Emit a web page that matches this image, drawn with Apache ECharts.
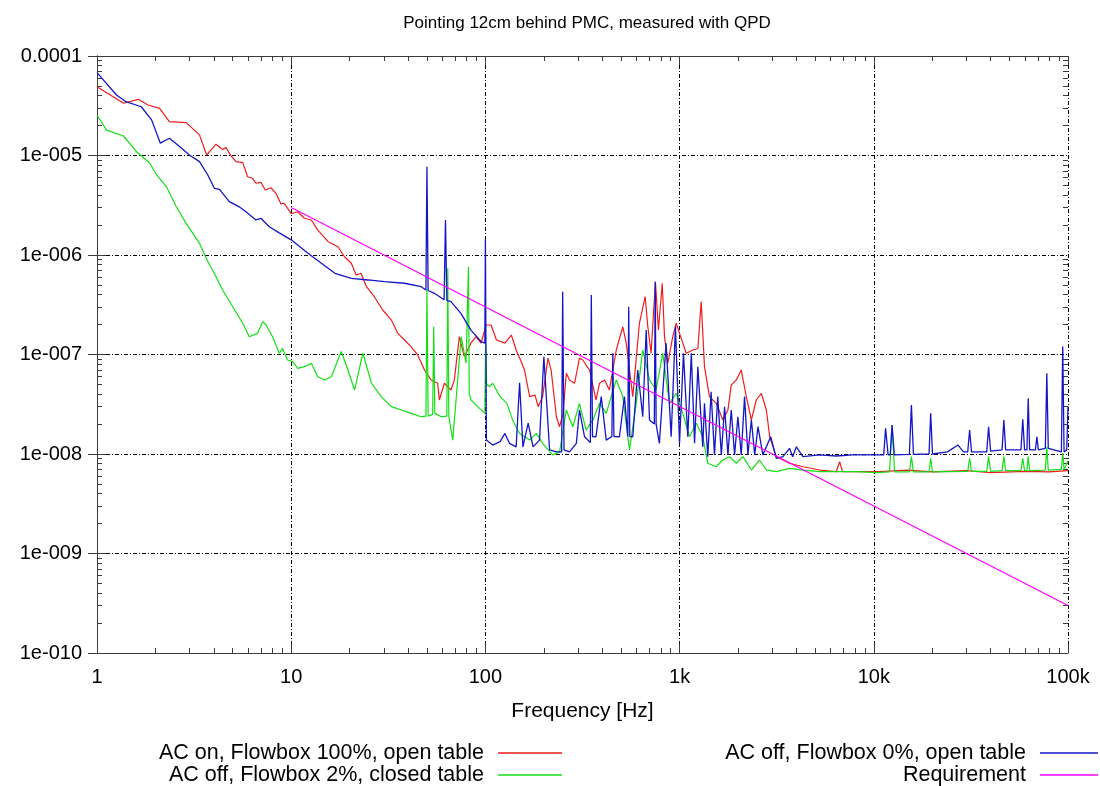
<!DOCTYPE html>
<html>
<head>
<meta charset="utf-8">
<script src="https://cdn.jsdelivr.net/npm/echarts@6/dist/echarts.min.js"></script>
<style>html,body{margin:0;padding:0;background:#fff}#c{width:1100px;height:786px}</style>
</head>
<body>
<div id="c"></div>
<script>
const titleText = 'Pointing 12cm behind PMC, measured with QPD';
const xAxisName = 'Frequency [Hz]';
const xTickLabels = ['1','10','100','1k','10k','100k'];
const yTickLabels = ['1e-010','1e-009','1e-008','1e-007','1e-006','1e-005','0.0001'];
const minorMultipliers = [2,3,4,5,6,7,8,9];
const seriesNames = ['AC on, Flowbox 100%, open table','AC off, Flowbox 2%, closed table','AC off, Flowbox 0%, open table','Requirement'];

const redData = [[1,4.9e-5],[1.37,3.35e-5],[1.63,3.67e-5],[1.83,3.22e-5],[2.1,2.98e-5],[2.36,2.19e-5],[2.88,2.14e-5],[3.37,1.61e-5],[3.67,1.01e-5],[4.1,1.30e-5],[4.43,1.15e-5],[4.62,1.20e-5],[4.9,9.9e-6],[5.2,8.67e-6],[5.63,8.47e-6],[5.96,6.12e-6],[6.32,5.90e-6],[6.58,5.26e-6],[6.98,5.38e-6],[7.35,4.50e-6],[7.86,4.74e-6],[8.35,4.17e-6],[8.85,3.26e-6],[9.2,3.31e-6],[10.0,2.6e-6],[10.8,2.72e-6],[11.7,2.34e-6],[12.7,2.25e-6],[13.7,1.78e-6],[15.5,1.36e-6],[17.4,1.21e-6],[18.8,9.6e-7],[20.4,8.26e-7],[21.6,6.30e-7],[22.9,6.55e-7],[24.4,4.80e-7],[26.8,3.81e-7],[29.6,2.80e-7],[32.8,2.22e-7],[35.4,1.63e-7],[38.3,1.40e-7],[41.4,1.20e-7],[44.8,9.9e-8],[48.6,6.98e-8],[52.5,5.55e-8],[56.8,5.14e-8],[57.9,3.49e-8],[61.5,5.14e-8],[66.5,4.40e-8],[69.2,5.55e-8],[73.4,1.51e-7],[77.9,9.5e-8],[84.2,1.30e-7],[89.4,1.51e-7],[94.9,1.30e-7],[101,1.98e-7],[107,1.98e-7],[114,1.40e-7],[126,1.30e-7],[136,1.57e-7],[144,1.11e-7],[153,8.47e-8],[159,6.98e-8],[169,3.77e-8],[180,3.92e-8],[187,2.99e-8],[197,3.77e-8],[210,9.2e-8],[218,6.98e-8],[232,2.37e-8],[241,1.88e-8],[251,2.56e-8],[261,6.47e-8],[271,5.55e-8],[288,5.14e-8],[305,9.2e-8],[317,8.8e-8],[344,6.98e-8],[371,3.49e-8],[387,5.14e-8],[411,5.55e-8],[435,4.40e-8],[472,1.11e-7],[510,1.90e-7],[531,1.30e-7],[574,3.77e-8],[621,2.06e-7],[665,3.81e-7],[686,1.90e-7],[713,1.03e-7],[751,5.39e-7],[778,1.76e-7],[814,5.20e-7],[836,1.51e-7],[870,8.17e-8],[922,1.51e-7],[961,2.06e-7],[999,1.63e-7],[1082,1.03e-7],[1170,1.11e-7],[1242,1.15e-7],[1292,3.40e-7],[1343,7.54e-8],[1425,3.77e-8],[1544,3.23e-8],[1670,2.20e-8],[1773,2.77e-8],[1845,4.93e-8],[1959,5.55e-8],[2077,6.98e-8],[2206,3.77e-8],[2342,2.20e-8],[2482,3.49e-8],[2635,4.07e-8],[2798,2.77e-8],[2910,1.49e-8],[3148,9.4e-9],[3682,8.07e-9],[4318,7.45e-9],[5255,6.90e-9],[6410,6.64e-9],[6666,8.37e-9],[6906,6.64e-9],[7804,6.64e-9],[10700,6.64e-9],[15000,6.9e-9],[20000,6.6e-9],[30000,6.8e-9],[40000,6.5e-9],[60000,6.7e-9],[80000,6.6e-9],[100000,6.8e-9]];

const greenData = [[1,2.55e-5],[1.12,1.80e-5],[1.37,1.57e-5],[1.6,1.09e-5],[1.87,8.35e-6],[2.03,6.37e-6],[2.28,4.85e-6],[2.56,3.05e-6],[2.88,2.08e-6],[3.37,1.31e-6],[3.65,9.27e-7],[4.1,6.05e-7],[4.43,4.45e-7],[5.0,3.02e-7],[5.63,2.06e-7],[6.08,1.51e-7],[6.71,1.63e-7],[7.13,2.14e-7],[7.42,1.98e-7],[8.02,1.51e-7],[8.68,1.03e-7],[9.02,1.15e-7],[9.57,8.8e-8],[10.2,8.47e-8],[10.8,7.26e-8],[11.7,7.54e-8],[12.7,8.17e-8],[13.7,5.98e-8],[14.9,5.55e-8],[16.1,5.98e-8],[18.1,1.07e-7],[19.6,6.98e-8],[21.2,4.40e-8],[23.4,1.03e-7],[25.9,5.14e-8],[29.1,3.77e-8],[32.8,2.99e-8],[36.9,2.77e-8],[41.4,2.56e-8],[46.7,2.37e-8],[49.4,2.4e-8],[50,4.5e-7],[50.7,2.4e-8],[53.5,2.5e-8],[54.2,1.90e-7],[54.9,2.56e-8],[59.2,2.37e-8],[63.3,2.4e-8],[64,7.35e-7],[64.8,2.4e-8],[67.9,1.38e-8],[72,5.55e-8],[75,1.51e-7],[79.5,8.17e-8],[81,8e-8],[81.8,7.63e-7],[82.6,4e-8],[84.4,3.49e-8],[91.2,2.99e-8],[99.3,2.56e-8],[100.2,1.30e-7],[101.5,5e-8],[105,4.75e-8],[109,5.14e-8],[119,3.77e-8],[129,3.23e-8],[138,2.20e-8],[150,1.61e-8],[169,1.38e-8],[183,1.61e-8],[197,1.28e-8],[222,9.8e-9],[241,1.05e-8],[261,2.77e-8],[282,1.88e-8],[305,3.23e-8],[330,1.74e-8],[358,2.20e-8],[387,3.23e-8],[419,2.56e-8],[472,5.55e-8],[510,3.77e-8],[552,1.10e-8],[598,3.23e-8],[646,1.11e-7],[700,5.55e-8],[757,4.40e-8],[819,1.03e-7],[886,3.23e-8],[961,4.07e-8],[1039,2.56e-8],[1124,1.49e-8],[1219,2.04e-8],[1316,1.49e-8],[1397,8.07e-9],[1544,7.45e-9],[1670,8.71e-9],[1811,9.4e-9],[1959,8.07e-9],[2119,9.4e-9],[2342,6.90e-9],[2581,8.71e-9],[2798,6.90e-9],[3148,6.64e-9],[3682,7.18e-9],[4318,6.90e-9],[5255,6.64e-9],[6410,6.64e-9],[8130,6.64e-9],[10300,6.49e-9],[12050,6.6e-9],[12420,1.95e-8],[12800,6.6e-9],[15250,6.6e-9],[15620,9.4e-9],[16000,6.6e-9],[19250,6.6e-9],[19630,9.06e-9],[20050,6.6e-9],[30450,6.7e-9],[31150,9.06e-9],[31850,6.7e-9],[38150,6.7e-9],[39000,9.4e-9],[39950,6.7e-9],[45750,6.8e-9],[46750,9.4e-9],[47750,6.8e-9],[57250,6.8e-9],[58500,9.06e-9],[59750,6.8e-9],[61450,6.8e-9],[62400,9.4e-9],[63450,6.8e-9],[76450,6.9e-9],[77800,1.18e-8],[79150,6.9e-9],[92450,7e-9],[93950,1.02e-8],[95450,7e-9],[100000,8.5e-9]];

const blueData = [[1,6.8e-5],[1.26,4.06e-5],[1.41,3.47e-5],[1.69,3.09e-5],[1.91,2.28e-5],[2.12,1.33e-5],[2.36,1.49e-5],[2.66,1.23e-5],[2.99,1.01e-5],[3.37,8.67e-6],[3.72,6.37e-6],[4.02,4.68e-6],[4.27,4.57e-6],[4.8,3.44e-6],[5.4,3.05e-6],[5.85,2.72e-6],[6.58,2.25e-6],[6.98,2.34e-6],[7.71,1.92e-6],[8.68,1.67e-6],[10.0,1.42e-6],[12.2,1.04e-6],[14.3,8.26e-7],[16.8,6.55e-7],[20.4,5.83e-7],[24.9,5.61e-7],[30.2,5.39e-7],[38.3,5.20e-7],[46.7,4.80e-7],[49.4,4.45e-7],[50,7.7e-6],[50.7,4.4e-7],[54.6,4.12e-7],[61.3,3.55e-7],[62.3,2.25e-6],[63.3,3.5e-7],[66.5,3.40e-7],[74.8,2.59e-7],[84.2,1.76e-7],[94.9,1.35e-7],[99.3,1.3e-7],[100,1.42e-6],[101.2,1.38e-8],[109,1.23e-8],[119,1.33e-8],[126,1.61e-8],[133,1.28e-8],[144,1.18e-8],[150,5.2e-8],[156,1.18e-8],[166,2.04e-8],[176,1.18e-8],[190,1.38e-8],[200,9.5e-8],[214,1.10e-8],[232,1.05e-8],[247,1.05e-8],[250,4.28e-7],[254,1.1e-8],[271,1.05e-8],[294,1.28e-8],[305,2.77e-8],[324,1.49e-8],[347,1.3e-8],[351,3.96e-7],[356,1.5e-8],[371,1.49e-8],[395,3.77e-8],[419,1.38e-8],[448,1.5e-8],[453,1.03e-7],[459,1.5e-8],[490,1.49e-8],[520,3.77e-8],[541,1.5e-8],[547,3.02e-7],[554,1.5e-8],[574,1.49e-8],[609,6.98e-8],[646,2.37e-8],[673,1.76e-7],[700,2.20e-8],[741,2.0e-8],[749,5.39e-7],[757,2.0e-8],[787,1.28e-8],[852,1.30e-7],[905,1.49e-8],[952,1.90e-7],[999,1.28e-8],[1047,1.03e-7],[1102,1.49e-8],[1149,1.03e-7],[1194,1.28e-8],[1242,7.54e-8],[1316,1.18e-8],[1343,3.23e-8],[1397,9.4e-9],[1453,4.23e-8],[1512,9.8e-9],[1572,3.77e-8],[1640,9.8e-9],[1705,2.99e-8],[1773,9.8e-9],[1845,2.77e-8],[1919,9.8e-9],[1996,2.37e-8],[2077,9.8e-9],[2160,3.77e-8],[2247,9.8e-9],[2342,2.20e-8],[2436,9.8e-9],[2533,1.88e-8],[2684,9.8e-9],[2945,1.49e-8],[3148,9.06e-9],[3406,9.4e-9],[3682,1.14e-8],[3822,9.4e-9],[3993,1.18e-8],[4318,9.4e-9],[5255,9.8e-9],[6410,9.55e-9],[7804,9.8e-9],[10080,9.8e-9],[11250,9.8e-9],[11500,1.81e-8],[11850,9.8e-9],[12150,9.8e-9],[12420,1.95e-8],[12750,9.8e-9],[15250,9.9e-9],[15620,3.10e-8],[16000,9.9e-9],[19250,1.0e-8],[19630,2.56e-8],[20050,1.0e-8],[23950,1.05e-8],[27150,1.23e-8],[28950,1.05e-8],[30450,1.05e-8],[31150,1.74e-8],[31850,1.05e-8],[38150,1.05e-8],[39000,1.88e-8],[39950,1.07e-8],[45750,1.1e-8],[46750,2.20e-8],[47750,1.1e-8],[57250,1.1e-8],[58500,2.23e-8],[59750,1.1e-8],[61450,1.1e-8],[62400,3.63e-8],[63450,1.1e-8],[67950,1.1e-8],[69150,1.49e-8],[70350,1.1e-8],[76450,1.14e-8],[77800,6.47e-8],[79150,1.14e-8],[92450,1.05e-8],[93950,1.20e-7],[95450,1.05e-8],[98500,1.1e-8],[100000,3.0e-8]];

const requirementData = [[10,3e-6],[100000,3e-10]];

const FONT = 'Liberation Sans, Arial, sans-serif';
const xMinorTicks = [];
for (let k = 0; k < 5; k++) minorMultipliers.forEach(m => xMinorTicks.push(k + Math.log10(m)));
const yMinorTicks = [];
for (let k = -10; k < -4; k++) minorMultipliers.forEach(m => yMinorTicks.push(k + Math.log10(m)));

const frameColor = '#3a3a3a';
const gridDash = { color: '#000', width: 1, type: [4, 2, 1, 2] };

const chart = echarts.init(document.getElementById('c'), null, { renderer: 'canvas' });
const legendBase = {
  orient: 'horizontal', align: 'right', padding: 0, itemHeight: 1.5, icon: 'rect',
  selectedMode: false, textStyle: { fontSize: 21.5, color: '#000', fontFamily: FONT, padding: [0, 9, 0, 0] }
};
chart.setOption({
  animation: false,
  backgroundColor: '#fff',
  title: {
    text: titleText, left: 582, top: 10, textAlign: 'center',
    textStyle: { fontSize: 17, fontWeight: 'normal', color: '#000', fontFamily: FONT }
  },
  grid: { left: 97, right: 32, top: 56, bottom: 133, containLabel: false },
  legend: [
    Object.assign({}, legendBase, { data: [seriesNames[0]], right: 538, top: 742, itemWidth: 64 }),
    Object.assign({}, legendBase, { data: [seriesNames[1]], right: 538, top: 764, itemWidth: 64 }),
    Object.assign({}, legendBase, { data: [seriesNames[2]], right: 2, top: 742, itemWidth: 58 }),
    Object.assign({}, legendBase, { data: [seriesNames[3]], right: 2, top: 764, itemWidth: 58 })
  ],
  xAxis: [
    {
      type: 'log', logBase: 10, min: 1, max: 100000, position: 'bottom',
      name: xAxisName, nameLocation: 'middle', nameGap: 48,
      nameTextStyle: { fontSize: 21, color: '#000', fontFamily: FONT },
      axisLine: { show: true, lineStyle: { color: frameColor, width: 1 } },
      axisTick: { show: true, inside: true, length: 9, lineStyle: { color: frameColor } },
      axisLabel: { show: true, margin: 14, fontSize: 20, color: '#000', fontFamily: FONT,
        formatter: v => xTickLabels[Math.round(Math.log10(v))] },
      splitLine: { show: true, lineStyle: gridDash }
    },
    {
      type: 'log', logBase: 10, min: 1, max: 100000, position: 'top',
      axisLine: { show: true, lineStyle: { color: frameColor, width: 1 } },
      axisTick: { show: true, inside: true, length: 9, lineStyle: { color: frameColor } },
      axisLabel: { show: false }, splitLine: { show: false }
    },
    {
      type: 'value', min: 0, max: 5, position: 'bottom',
      axisLine: { show: false },
      axisTick: { show: true, inside: true, length: 5, customValues: xMinorTicks, lineStyle: { color: frameColor } },
      axisLabel: { show: false }, splitLine: { show: false }
    },
    {
      type: 'value', min: 0, max: 5, position: 'top',
      axisLine: { show: false },
      axisTick: { show: true, inside: true, length: 5, customValues: xMinorTicks, lineStyle: { color: frameColor } },
      axisLabel: { show: false }, splitLine: { show: false }
    }
  ],
  yAxis: [
    {
      type: 'log', logBase: 10, min: 1e-10, max: 1e-4, position: 'left',
      axisLine: { show: true, lineStyle: { color: frameColor, width: 1 } },
      axisTick: { show: true, inside: true, length: 9, lineStyle: { color: frameColor } },
      axisLabel: { show: true, margin: 15, fontSize: 20, color: '#000', fontFamily: FONT,
        formatter: v => yTickLabels[Math.round(Math.log10(v)) + 10] },
      splitLine: { show: true, lineStyle: gridDash }
    },
    {
      type: 'log', logBase: 10, min: 1e-10, max: 1e-4, position: 'right',
      axisLine: { show: true, lineStyle: { color: frameColor, width: 1 } },
      axisTick: { show: true, inside: true, length: 9, lineStyle: { color: frameColor } },
      axisLabel: { show: false }, splitLine: { show: false }
    },
    {
      type: 'value', min: -10, max: -4, position: 'left',
      axisLine: { show: false },
      axisTick: { show: true, inside: true, length: 5, customValues: yMinorTicks, lineStyle: { color: frameColor } },
      axisLabel: { show: false }, splitLine: { show: false }
    },
    {
      type: 'value', min: -10, max: -4, position: 'right',
      axisLine: { show: false },
      axisTick: { show: true, inside: true, length: 5, customValues: yMinorTicks, lineStyle: { color: frameColor } },
      axisLabel: { show: false }, splitLine: { show: false }
    }
  ],
  series: [
    { name: seriesNames[0], type: 'line', data: redData, xAxisIndex: 0, yAxisIndex: 0, symbol: 'none',
      lineStyle: { color: '#ee1c1c', width: 1.2 }, itemStyle: { color: '#ee1c1c' } },
    { name: seriesNames[1], type: 'line', data: greenData, xAxisIndex: 0, yAxisIndex: 0, symbol: 'none',
      lineStyle: { color: '#12e012', width: 1.2 }, itemStyle: { color: '#12e012' } },
    { name: seriesNames[2], type: 'line', data: blueData, xAxisIndex: 0, yAxisIndex: 0, symbol: 'none',
      lineStyle: { color: '#1515c8', width: 1.3 }, itemStyle: { color: '#1515c8' } },
    { name: seriesNames[3], type: 'line', data: requirementData, xAxisIndex: 0, yAxisIndex: 0, symbol: 'none',
      lineStyle: { color: '#ff00ff', width: 1.3 }, itemStyle: { color: '#ff00ff' } }
  ]
});
</script>
</body>
</html>
